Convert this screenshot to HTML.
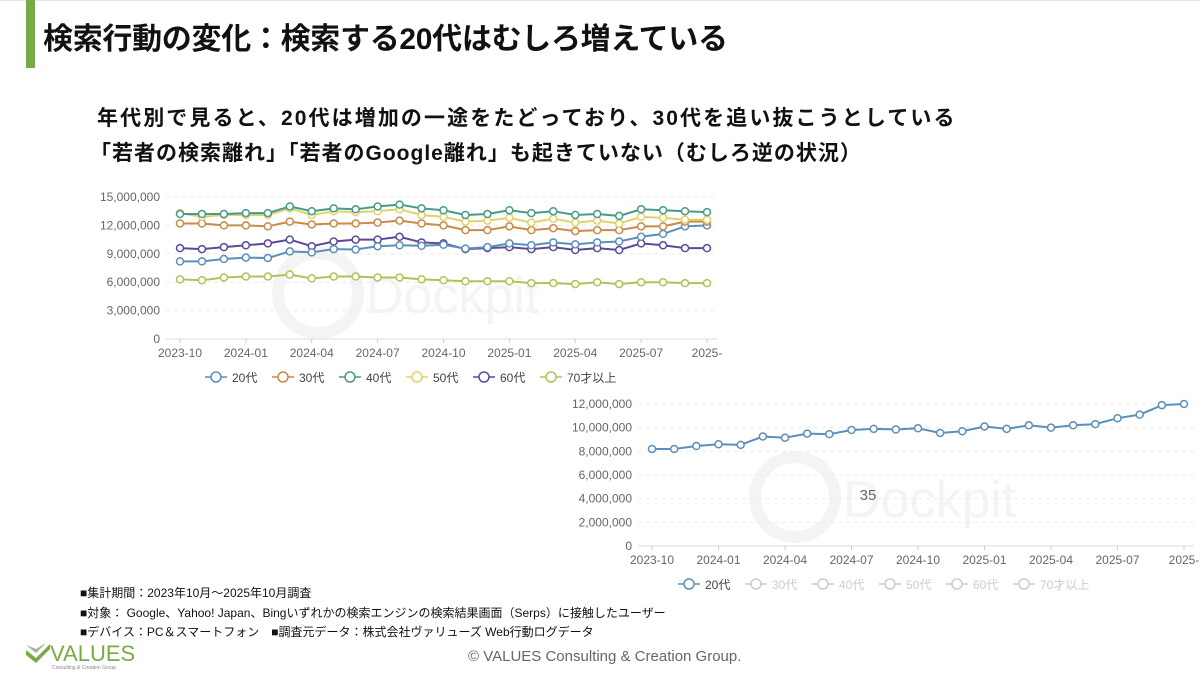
<!DOCTYPE html>
<html><head><meta charset="utf-8"><style>
body{margin:0;width:1200px;height:674px;background:#fff;overflow:hidden;position:relative;font-family:"Liberation Sans","Noto Sans CJK JP",sans-serif}
.t{position:absolute;white-space:nowrap}
</style></head><body>
<div class="t" style="left:0;top:0;width:1200px;height:1px;background:#e6e6e6"></div>
<div class="t" style="left:26px;top:0;width:9px;height:68px;background:#7aaa45"></div>
<div class="t" style="left:43px;top:14px;font-size:30px;font-weight:bold;color:#111;letter-spacing:-0.3px">検索行動の変化：検索する20代はむしろ増えている</div>
<div class="t" style="left:97px;top:102px;font-size:21px;font-weight:bold;color:#111;letter-spacing:2.1px">年代別で見ると、20代は増加の一途をたどっており、30代を追い抜こうとしている</div>
<div class="t" style="left:90px;top:137px;font-size:21px;font-weight:bold;color:#111;letter-spacing:1px">「若者の検索離れ」「若者のGoogle離れ」も起きていない（むしろ逆の状況）</div>
<div class="t" style="left:80px;top:584px;font-size:12px;color:#111;line-height:19.5px">■集計期間：2023年10月～2025年10月調査<br>■対象： Google、Yahoo! Japan、Bingいずれかの検索エンジンの検索結果画面（Serps）に接触したユーザー<br>■デバイス：PC＆スマートフォン　■調査元データ：株式会社ヴァリューズ Web行動ログデータ</div>
<div class="t" style="left:468px;top:648px;font-size:15px;color:#666">© VALUES Consulting &amp; Creation Group.</div>
<svg class="t" style="left:24px;top:640px" width="110" height="30"><polygon points="2,10 12,18 26,4 26,9 12,23 2,15" fill="#7aaa45"/><polygon points="2,5 12,13 22,3 12,9" fill="#aaa"/><text x="26" y="21" font-size="22" fill="#7aaa45" font-family="Liberation Sans">VALUES</text><text x="28" y="29" font-size="5" fill="#888">Consulting &amp; Creation Group</text></svg>
<svg id="s" class="t" style="left:0;top:0" width="1200" height="674"></svg>
<script>
const S=document.getElementById('s');let h='';
const C=['#5b8fb9','#c98a4b','#4a9a88','#e0d36a','#5a4a9a','#b5c05a'];
const D=[
[8.2,8.2,8.45,8.6,8.55,9.25,9.15,9.5,9.45,9.8,9.9,9.85,9.95,9.55,9.7,10.1,9.9,10.2,10.0,10.2,10.3,10.8,11.1,11.9,12.0],
[12.2,12.2,12.0,12.0,11.9,12.4,12.1,12.2,12.2,12.3,12.5,12.2,12.0,11.5,11.5,11.9,11.5,11.7,11.4,11.5,11.5,11.9,11.9,12.4,12.4],
[13.2,13.2,13.2,13.3,13.3,14.0,13.5,13.8,13.7,14.0,14.2,13.8,13.6,13.1,13.2,13.6,13.3,13.5,13.1,13.2,13.0,13.7,13.6,13.5,13.4],
[13.3,12.9,13.1,13.1,13.1,13.8,13.1,13.5,13.4,13.5,13.7,13.1,12.9,12.4,12.5,12.8,12.3,12.7,12.3,12.5,12.2,12.9,12.8,12.6,12.6],
[9.6,9.5,9.7,9.9,10.1,10.5,9.8,10.3,10.5,10.5,10.8,10.2,10.1,9.5,9.6,9.7,9.5,9.7,9.4,9.6,9.4,10.1,9.9,9.6,9.6],
[6.3,6.2,6.5,6.6,6.6,6.8,6.4,6.6,6.6,6.5,6.5,6.3,6.2,6.1,6.1,6.1,5.9,5.9,5.8,6.0,5.8,6.0,6.0,5.9,5.9]];
const XL=['2023-10','2024-01','2024-04','2024-07','2024-10','2025-01','2025-04','2025-07','2025-'];
const L=['20代','30代','40代','50代','60代','70才以上'];
function chart(x0,x1,y0,yTop,maxV,step,series,legY,legX,axisL,active,wx,wy){
 const sx=i=>x0+(x1-x0)*i/24, sy=v=>y0-(y0-yTop)*v/maxV;
 h+=`<circle cx="${wx}" cy="${wy}" r="40" fill="none" stroke="#f4f4f4" stroke-width="12"/><text x="${wx+48}" y="${wy+20}" font-size="52" fill="#f4f4f4">Dockpit</text>`;
 for(let v=0;v<=maxV+1e-9;v+=step){const y=sy(v);
  if(v>0)h+=`<line x1="${axisL}" x2="${x1+10}" y1="${y}" y2="${y}" stroke="#ececec" stroke-dasharray="4,4"/>`;
  h+=`<text x="${axisL-6}" y="${y+4}" font-size="12" fill="#666" text-anchor="end">${v==0?'0':(v*1e6).toLocaleString('en-US')}</text>`;}
 h+=`<line x1="${axisL}" x2="${x1+10}" y1="${y0}" y2="${y0}" stroke="#ddd"/>`;
 XL.forEach((t,k)=>{const x=sx(k*3);h+=`<line x1="${x}" x2="${x}" y1="${y0}" y2="${y0+4}" stroke="#ccc"/><text x="${x}" y="${y0+18}" font-size="12" fill="#666" text-anchor="middle">${t}</text>`;});
 series.forEach(si=>{const d=D[si];h+=`<polyline fill="none" stroke="${C[si]}" stroke-width="2" points="${d.map((v,i)=>sx(i)+','+sy(v)).join(' ')}"/>`;
  d.forEach((v,i)=>h+=`<circle cx="${sx(i)}" cy="${sy(v)}" r="3.5" fill="#fff" stroke="${C[si]}" stroke-width="1.5"/>`);});
 let lx=legX;L.forEach((t,i)=>{const c=active.includes(i)?C[i]:'#ccc',tc=active.includes(i)?'#444':'#ccc';
  h+=`<line x1="${lx}" x2="${lx+22}" y1="${legY}" y2="${legY}" stroke="${c}" stroke-width="1.5"/><circle cx="${lx+11}" cy="${legY}" r="5" fill="#fff" stroke="${c}" stroke-width="1.5"/><text x="${lx+27}" y="${legY+5}" font-size="12" fill="${tc}">${t}</text>`;
  lx+=i==5?0:(t.length>3?80:67);});
}
chart(180,707,339,197,15,3,[5,4,0,1,3,2],377,205,166,[0,1,2,3,4,5],318,293);
chart(652,1184,546,404,12,2,[0],584,678,638,[0],795,497);
h+=`<text x="868" y="500" font-size="15" fill="#666" text-anchor="middle">35</text>`;
S.innerHTML=h;
</script>
</body></html>
